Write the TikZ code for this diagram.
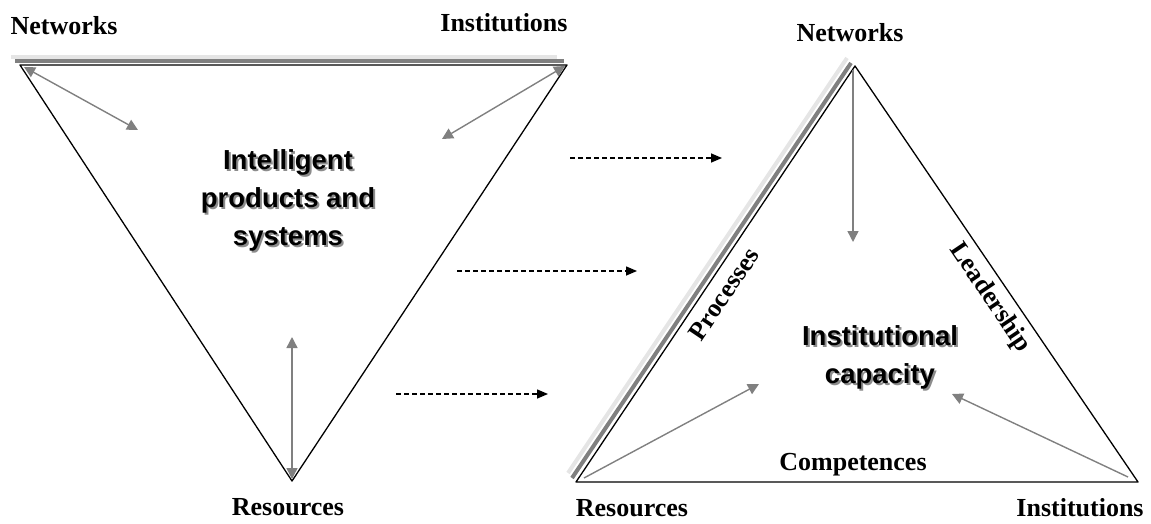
\documentclass[tikz,border=0pt]{standalone}
\usepackage{fontspec}
\setmainfont{Liberation Serif}
\newfontfamily\arialfont{Liberation Sans}
\usetikzlibrary{arrows.meta}
\definecolor{arrowgray}{rgb}{.5,.5,.5}
\definecolor{shadedark}{rgb}{.5,.5,.5}
\definecolor{shadelight}{rgb}{.9,.9,.9}

\begin{document}
\begin{tikzpicture}[x=1pt,y=-1pt,
    cornerlabel/.style={font=\fontsize{26}{29}\selectfont\bfseries},
    centertext/.style={font=\arialfont\fontsize{27.5}{38}\selectfont\bfseries, align=center},
    grayarrow/.style={draw=arrowgray, line width=1.4pt, -{Triangle[length=11pt,width=11pt]}},
    graydouble/.style={grayarrow, {Triangle[length=11pt,width=11pt]}-{Triangle[length=11pt,width=11pt]}},
    flowarrow/.style={draw=black, line width=1.5pt, dash pattern=on 5pt off 3pt, -{Triangle[length=11pt,width=9pt]}}]
    \useasboundingbox (0,0) rectangle (1151,524);

    % Left triangle
    \coordinate (ltl) at (20,65);
    \coordinate (ltr) at (567,65);
    \coordinate (lb) at (292,481);
    \draw[shadelight, line width=4pt] (11,57) -- (557,57);
    \draw[shadedark, line width=4pt] (15,61) -- (564,61);
    \draw[line width=1.3pt, line join=round] (ltl) -- (ltr) -- (lb) -- cycle;

    % Left arrows
    \coordinate (la1) at (138,130);
    \coordinate (la2) at (442,139);
    \coordinate (la3) at (292,337);
    \draw[graydouble] ([shift={(4,2)}]ltl) -- (la1);
    \draw[graydouble] ([shift={(-2,1)}]ltr) -- (la2);
    \draw[graydouble] (la3) -- ([shift={(0,-2)}]lb);

    % Left labels
    \node[cornerlabel] (lnet) at (64,26) {Networks};
    \node[cornerlabel] (linst) at (504,23) {Institutions};
    \node[cornerlabel] (lres) at (288,507) {Resources};
    \node[centertext, text=black!45] (ipsshadow) at (290,202) {Intelligent\\products and\\systems};
    \node[centertext] (ips) at (288,200) {Intelligent\\products and\\systems};

    % Flow arrows
    \coordinate (f1a) at (570,158);
    \coordinate (f1b) at (722,158);
    \coordinate (f2a) at (457,271);
    \coordinate (f2b) at (637,271);
    \coordinate (f3a) at (396,394);
    \coordinate (f3b) at (548,394);
    \draw[flowarrow] (f1a) -- (f1b);
    \draw[flowarrow] (f2a) -- (f2b);
    \draw[flowarrow] (f3a) -- (f3b);

    % Right triangle
    \coordinate (rtop) at (855,66);
    \coordinate (rbl) at (576,482);
    \coordinate (rbr) at (1138,482);
    \draw[shadelight, line width=4pt] ([shift={(-8,-8)}]rtop) -- ([shift={(-8,-9)}]rbl);
    \draw[shadedark, line width=4pt] ([shift={(-4,-3)}]rtop) -- ([shift={(-4,-4)}]rbl);
    \draw[line width=1.3pt, line join=round] (rtop) -- (rbr) -- (rbl) -- cycle;

    % Right arrows
    \coordinate (ra1) at (853,242);
    \coordinate (ra2) at (759,384);
    \coordinate (ra3) at (952,394);
    \draw[grayarrow] ([shift={(-2,4)}]rtop) -- (ra1);
    \draw[grayarrow] ([shift={(8,-4)}]rbl) -- (ra2);
    \draw[grayarrow] ([shift={(-10,-5)}]rbr) -- (ra3);

    % Right labels
    \node[cornerlabel] (rnet) at (850,33) {Networks};
    \node[cornerlabel] (rres) at (632,508) {Resources};
    \node[cornerlabel] (rinst) at (1080,508) {Institutions};
    \node[cornerlabel] (rcomp) at (853,465) {Competences};
    \node[cornerlabel, rotate=56] (rproc) at (724,294) {Processes};
    \node[cornerlabel, rotate=-56] (rlead) at (990,298) {Leadership};
    \node[centertext, text=black!45] (icshadow) at (882,359) {Institutional\\capacity};
    \node[centertext] (ic) at (880,357) {Institutional\\capacity};
\end{tikzpicture}
\end{document}
